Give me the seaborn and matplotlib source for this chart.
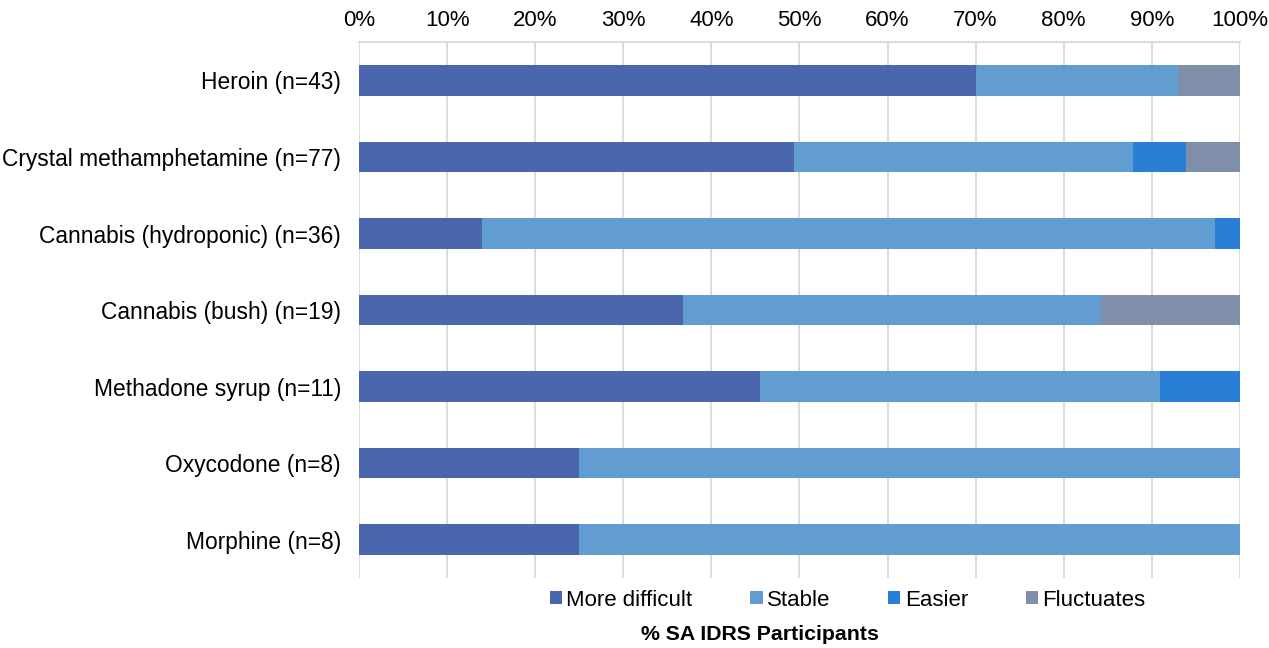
import numpy as np
import pandas as pd
import matplotlib.pyplot as plt
import seaborn as sns

# -------------------------------
# Data (percent of SA IDRS participants)
# -------------------------------
drugs = ['Heroin (n=43)', 'Crystal methamphetamine (n=77)', 'Cannabis (hydroponic) (n=36)',
         'Cannabis (bush) (n=19)', 'Methadone syrup (n=11)', 'Oxycodone (n=8)', 'Morphine (n=8)']
more_difficult = [70.0, 49.4, 13.9, 36.8, 45.5, 25.0, 25.0]
stable = [23.0, 38.5, 83.3, 47.4, 45.4, 75.0, 75.0]
easier = [0.0, 6.0, 2.8, 0.0, 9.1, 0.0, 0.0]
fluctuates = [7.0, 6.1, 0.0, 15.8, 0.0, 0.0, 0.0]

series = ['More difficult', 'Stable', 'Easier', 'Fluctuates']
colors = ['#4A66AC', '#629DD1', '#297FD5', '#7F8FA9']

df = pd.DataFrame({'Drug': drugs, 'More difficult': more_difficult, 'Stable': stable,
                   'Easier': easier, 'Fluctuates': fluctuates})
cum = df[series].cumsum(axis=1)

sns.set_style('white')
plt.rcParams['font.family'] = ['Liberation Sans', 'DejaVu Sans']
plt.rcParams['text.color'] = 'black'
plt.rcParams['xtick.color'] = 'black'
plt.rcParams['ytick.color'] = 'black'

fig = plt.figure(figsize=(12.69, 6.48), dpi=100)
ax = fig.add_axes([0.283, 0.108, 0.694, 0.827])

# draw cumulative bars from the longest to the shortest to get a stacked look
for name, col in reversed(list(zip(series, colors))):
    sns.barplot(x=cum[name], y=df['Drug'], color=col, width=0.4, orient='h',
                saturation=1, ax=ax, label=name, zorder=3, linewidth=0)

ax.set_xlim(0, 100)
ax.set_ylim(6.5, -0.5)
ax.set_xticks(np.arange(0, 101, 10))
ax.set_xticklabels([f'{t}%' for t in range(0, 101, 10)])
ax.xaxis.tick_top()
ax.tick_params(axis='x', labelsize=16, length=0, pad=8)
ax.tick_params(axis='y', labelsize=16.4, length=0, pad=13)
ax.grid(axis='x', color='#D9D9D9', linewidth=1.3, zorder=0)
ax.set_xlabel('')
ax.set_ylabel('')
for s in ['left', 'right', 'bottom']:
    ax.spines[s].set_visible(False)
ax.spines['top'].set_color('#D9D9D9')
ax.spines['top'].set_linewidth(1.3)

# legend in original order
handles, labels = ax.get_legend_handles_labels()
order = [labels.index(s) for s in series]
if ax.get_legend():
    ax.get_legend().remove()
fig.legend([handles[i] for i in order], series, loc='center', bbox_to_anchor=(0.668, 0.074),
           ncol=4, frameon=False, fontsize=16, handlelength=0.55, handleheight=0.55,
           handletextpad=0.2, columnspacing=2.6)

fig.text(0.599, 0.021, '% SA IDRS Participants', ha='center', va='center',
         fontsize=15.3, fontweight='bold')

plt.savefig('out.png', dpi=100)
plt.close()
